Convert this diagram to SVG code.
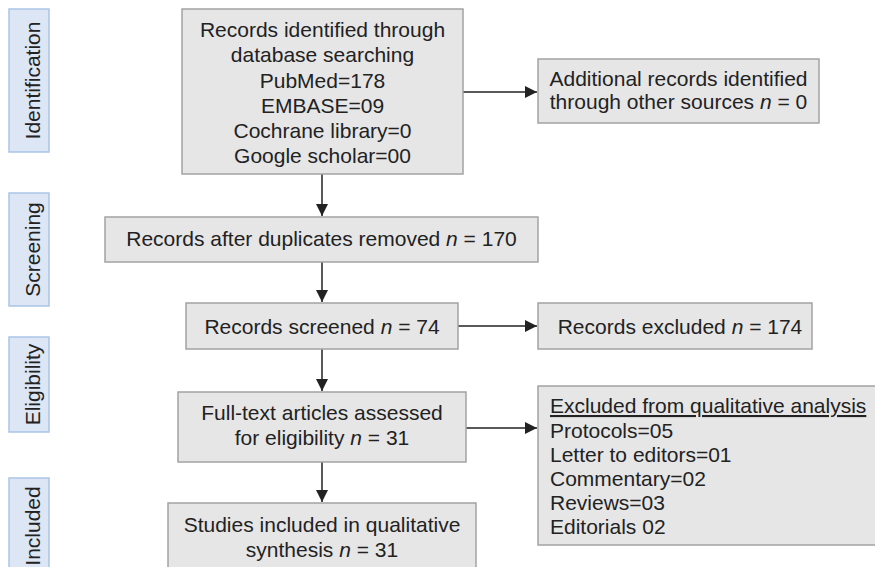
<svg xmlns="http://www.w3.org/2000/svg" width="875" height="567" viewBox="0 0 875 567">
<style>
text{font-family:"Liberation Sans",Arial,sans-serif;font-size:21px;fill:#222}
.box{fill:#e6e6e6;stroke:#a3a3a3;stroke-width:1.5}
.lab{fill:#dce6f4;stroke:#aac5e6;stroke-width:1.5}
.c{text-anchor:middle}
.i{font-style:italic}
.con{stroke:#222;stroke-width:1.5;fill:none;marker-end:url(#ah)}
</style>
<defs>
<marker id="ah" markerUnits="userSpaceOnUse" markerWidth="13" markerHeight="13" refX="12" refY="6" orient="auto">
<path d="M0,0 L12,6 L0,12 z" fill="#222"/>
</marker>
</defs>
<rect width="875" height="567" fill="#fff"/>
<g id="stage-identification"><rect class="lab" x="9" y="9" width="40" height="143"/><text class="c" transform="translate(40,80.5) rotate(-90)">Identification</text></g>
<g id="stage-screening"><rect class="lab" x="9" y="193" width="40" height="113"/><text class="c" transform="translate(40,249.5) rotate(-90)">Screening</text></g>
<g id="stage-eligibility"><rect class="lab" x="9" y="337" width="40" height="95"/><text class="c" transform="translate(40,384.5) rotate(-90)">Eligibility</text></g>
<g id="stage-included"><rect class="lab" x="9" y="478" width="40" height="100"/><text class="c" transform="translate(40,526) rotate(-90)">Included</text></g>
<g id="connectors">
<line class="con" x1="322" y1="174" x2="322" y2="216"/>
<line class="con" x1="322" y1="262" x2="322" y2="302"/>
<line class="con" x1="322" y1="349" x2="322" y2="391"/>
<line class="con" x1="322" y1="462" x2="322" y2="502"/>
<line class="con" x1="463" y1="92" x2="537" y2="92"/>
<line class="con" x1="458" y1="326" x2="537" y2="326"/>
<line class="con" x1="466" y1="428" x2="537" y2="428"/>
</g>
<g id="n-identified"><rect class="box" x="182" y="9" width="281" height="165"/>
<text class="c" x="322.5" y="37">Records identified through</text>
<text class="c" x="322.5" y="62">database searching</text>
<text class="c" x="322.5" y="87.5">PubMed=178</text>
<text class="c" x="322.5" y="112.5">EMBASE=09</text>
<text class="c" x="322.5" y="138">Cochrane library=0</text>
<text class="c" x="322.5" y="163">Google scholar=00</text></g>
<g id="n-additional"><rect class="box" x="538" y="59" width="281" height="64"/>
<text class="c" x="678.5" y="86">Additional records identified</text>
<text class="c" x="678.5" y="109">through other sources <tspan class="i">n</tspan> = 0</text></g>
<g id="n-duplicates"><rect class="box" x="105" y="217" width="433" height="45"/>
<text class="c" x="321.5" y="246">Records after duplicates removed <tspan class="i">n</tspan> = 170</text></g>
<g id="n-screened"><rect class="box" x="186" y="303" width="272" height="46"/>
<text class="c" x="322" y="333.5">Records screened <tspan class="i">n</tspan> = 74</text></g>
<g id="n-excluded"><rect class="box" x="538" y="303" width="274" height="46"/>
<text class="c" x="680" y="333.5">Records excluded <tspan class="i">n</tspan> = 174</text></g>
<g id="n-fulltext"><rect class="box" x="178" y="392" width="288" height="70"/>
<text class="c" x="322" y="420">Full-text articles assessed</text>
<text class="c" x="322" y="445">for eligibility <tspan class="i">n</tspan> = 31</text></g>
<g id="n-excluded-qual"><rect class="box" x="538" y="386" width="340" height="159"/>
<text x="550" y="413" text-decoration="underline">Excluded from qualitative analysis</text>
<text x="550" y="437.5">Protocols=05</text>
<text x="550" y="461.5">Letter to editors=01</text>
<text x="550" y="485.5">Commentary=02</text>
<text x="550" y="510">Reviews=03</text>
<text x="550" y="534">Editorials 02</text></g>
<g id="n-included"><rect class="box" x="168" y="503" width="308" height="75"/>
<text class="c" x="322" y="532">Studies included in qualitative</text>
<text class="c" x="322" y="557">synthesis <tspan class="i">n</tspan> = 31</text></g>
</svg>
